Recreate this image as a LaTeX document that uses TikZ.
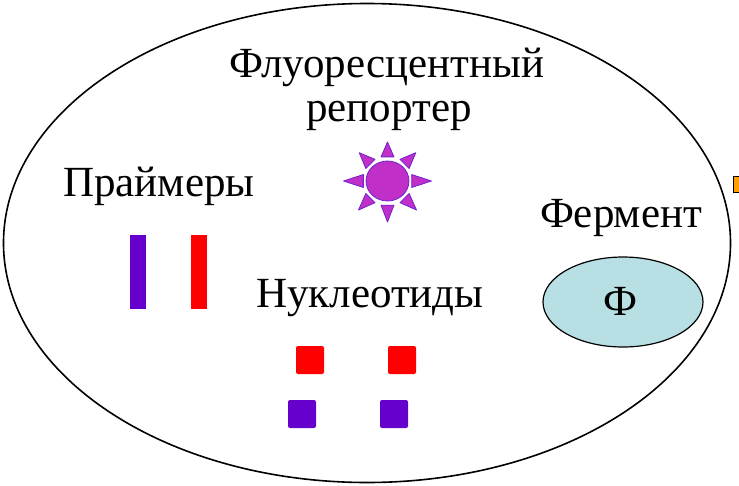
\documentclass[tikz,border=0pt]{standalone}
\usepackage{fontspec}
\setmainfont{Liberation Serif}
\usetikzlibrary{shapes.geometric,calc}
\begin{document}
\begin{tikzpicture}[x=1pt,y=-1pt,
  lbl/.style={font=\fontsize{43}{48}\selectfont, inner sep=0pt, anchor=base},
  bar/.style={minimum width=16pt, minimum height=74pt, inner sep=0pt},
  nuc/.style={minimum width=28pt, minimum height=28pt, inner sep=0pt, rounded corners=2pt},
  ray/.style={fill=sunfill, draw=sunedge, line width=0.8pt, line join=round}]
\definecolor{violetbar}{HTML}{6600CC}
\definecolor{sunfill}{HTML}{C030C8}
\definecolor{sunedge}{HTML}{7020D0}
\definecolor{enzfill}{HTML}{B8E0E4}
\definecolor{orangebox}{HTML}{FFA000}
\useasboundingbox (0,0) rectangle (739,485);

% cell membrane
\node[draw, line width=1.6pt, ellipse, minimum width=727pt, minimum height=479pt, inner sep=0pt] (cell) at (367,243) {};
% partly visible object at the right edge
\draw[fill=orangebox, line width=1pt] (733,176) rectangle (745,192);

% labels
\node[lbl] (rep1) at (387,77) {Флуоресцентный};
\node[lbl] (rep2) at (389,121) {репортер};
\node[lbl] (prim) at (159,196) {Праймеры};
\node[lbl] (nucl) at (370,307) {Нуклеотиды};
\node[lbl] (ferm) at (621,227) {Фермент};

% primers
\node[bar, fill=violetbar] (p1) at (138,272) {};
\node[bar, fill=red] (p2) at (199,272) {};

% nucleotides
\node[nuc, fill=red] (n1) at (310,360) {};
\node[nuc, fill=red] (n2) at (402,360) {};
\node[nuc, fill=violetbar] (n3) at (302,414) {};
\node[nuc, fill=violetbar] (n4) at (394,414) {};

% fluorescent reporter (sun)
\coordinate (sun) at (387.5,181);
\foreach \a/\r in {90/41, 270/39, 0/44, 180/44, 45/41, 135/41, 225/40, 315/40} {
  \draw[ray] ($(sun)+(\a:\r)$) -- ($(sun)+(\a+15:25)$) -- ($(sun)+(\a-15:25)$) -- cycle;
}
\node[ellipse, fill=sunfill, draw=sunedge, line width=0.8pt, minimum width=43pt, minimum height=40pt, inner sep=0pt] (sunc) at (sun) {};

% enzyme
\node[draw, line width=1.2pt, ellipse, fill=enzfill, minimum width=160pt, minimum height=90pt, inner sep=0pt] (enz) at (623,302) {};
\node[lbl] (enzl) at (620,315) {Ф};
\end{tikzpicture}
\end{document}
